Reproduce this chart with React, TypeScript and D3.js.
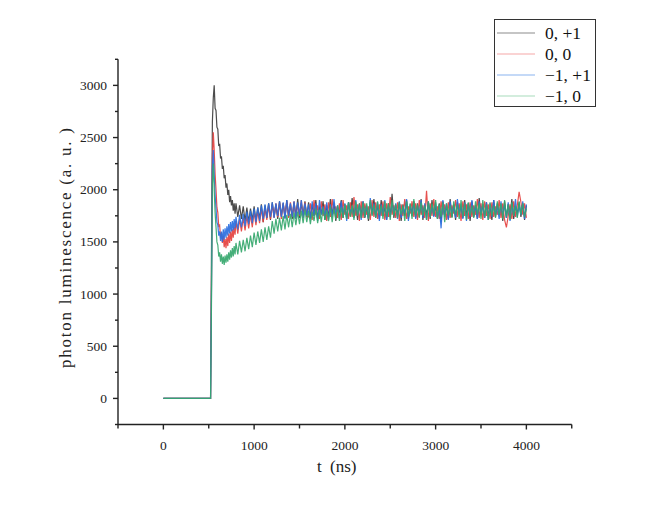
import React from "react";
import * as d3 from "d3";

// ---- Data ----
const seriesNames = ["0, +1", "0, 0", "\u22121, +1", "\u22121, 0"];
const seriesColors = ["#3d3d3d", "#e5413f", "#2a6fe0", "#35a76c"];
const legendColors = ["#8c8c8c", "#f5a8a8", "#8ab4f0", "#a8dcbc"];

const xMajorTicks = [0, 1000, 2000, 3000, 4000];
const yMajorTicks = [0, 500, 1000, 1500, 2000, 2500, 3000];

// flat baseline before the excitation pulse (t = 0 .. 520 ns)
const baseTimes = [0, 520];
const baseValues = [0, 0];

// early segment: t = 530 .. 790 ns every 10 ns
const blackEarly = [1400, 2650, 2880, 3000, 2780, 2760, 2600, 2580, 2420, 2440,
  2300, 2320, 2200, 2230, 2110, 2140, 2020, 2060, 1950, 2000,
  1880, 1940, 1850, 1900, 1800, 1870, 1770];
const redEarly = [1100, 2300, 2550, 2380, 2150, 2000, 1830, 1780, 1650, 1660,
  1540, 1590, 1490, 1560, 1450, 1530, 1440, 1550, 1460, 1580,
  1490, 1600, 1510, 1620, 1540, 1650, 1570];
const blueEarly = [1000, 2200, 2380, 2150, 1950, 1820, 1690, 1660, 1560, 1600,
  1510, 1600, 1500, 1620, 1520, 1630, 1540, 1650, 1560, 1670,
  1580, 1690, 1600, 1700, 1610, 1720, 1630];
const greenEarly = [900, 2050, 2250, 2000, 1780, 1640, 1500, 1470, 1360, 1400,
  1310, 1380, 1290, 1360, 1280, 1370, 1300, 1380, 1310, 1400,
  1330, 1420, 1350, 1440, 1360, 1460, 1380];

// middle segment: t = 800 .. 1580 ns every 20 ns
const blackMid = [1870, 1740, 1850, 1720, 1840, 1700, 1830, 1690, 1820, 1710,
  1840, 1700, 1830, 1720, 1860, 1690, 1850, 1730, 1870, 1710,
  1880, 1740, 1860, 1720, 1890, 1750, 1870, 1730, 1900, 1740,
  1860, 1720, 1880, 1750, 1910, 1730, 1870, 1760, 1890, 1740];
const redMid = [1700, 1580, 1720, 1600, 1730, 1610, 1750, 1630, 1760, 1640,
  1790, 1660, 1800, 1680, 1820, 1690, 1830, 1710, 1850, 1720,
  1860, 1730, 1870, 1740, 1880, 1720, 1870, 1750, 1890, 1730,
  1880, 1740, 1890, 1720, 1870, 1750, 1900, 1730, 1880, 1740];
const blueMid = [1740, 1620, 1760, 1640, 1770, 1650, 1790, 1670, 1800, 1680,
  1820, 1690, 1830, 1700, 1850, 1720, 1860, 1730, 1870, 1740,
  1880, 1730, 1870, 1750, 1890, 1740, 1880, 1720, 1900, 1750,
  1870, 1740, 1890, 1720, 1880, 1760, 1900, 1730, 1870, 1750];
const greenMid = [1490, 1380, 1510, 1400, 1520, 1410, 1540, 1430, 1560, 1450,
  1590, 1470, 1600, 1490, 1620, 1500, 1640, 1520, 1650, 1540,
  1700, 1580, 1720, 1600, 1730, 1610, 1750, 1620, 1760, 1640,
  1770, 1640, 1780, 1660, 1790, 1670, 1800, 1680, 1810, 1690];

// late segment: t = 1600 .. 4000 ns every 20 ns
const blackLate = [1880, 1730, 1860, 1750, 1900, 1720, 1840, 1770, 1890, 1710,
  1850, 1740, 1910, 1760, 1870, 1700, 1830, 1780, 1900, 1730,
  1860, 1720, 1880, 1750, 1920, 1740, 1850, 1710, 1870, 1760,
  1890, 1730, 1840, 1700, 1880, 1770, 1910, 1740, 1860, 1720,
  1900, 1750, 1830, 1710, 1870, 1740, 1960, 1730, 1850, 1760,
  1880, 1700, 1860, 1750, 1900, 1720, 1840, 1780, 1890, 1730,
  1870, 1740, 1910, 1710, 1850, 1760, 1880, 1720, 1900, 1750,
  1840, 1730, 1870, 1690, 1890, 1760, 1850, 1720, 1910, 1740,
  1860, 1710, 1880, 1770, 1840, 1730, 1900, 1750, 1870, 1700,
  1890, 1740, 1850, 1720, 1920, 1760, 1860, 1730, 1880, 1750,
  1830, 1710, 1900, 1740, 1870, 1760, 1850, 1700, 1890, 1730,
  1860, 1750, 1910, 1720, 1840, 1770, 1880, 1740, 1870, 1710,
  1850];
const redLate = [1740, 1870, 1710, 1900, 1760, 1850, 1720, 1890, 1750, 1860,
  1700, 1880, 1740, 1910, 1770, 1840, 1730, 1870, 1710, 1900,
  1760, 1850, 1720, 1880, 1740, 1930, 1750, 1860, 1700, 1890,
  1730, 1870, 1760, 1840, 1710, 1900, 1740, 1880, 1720, 1860,
  1750, 1890, 1710, 1870, 1740, 1930, 1760, 1850, 1730, 1880,
  1700, 1860, 1750, 1910, 1720, 1840, 1770, 1890, 1740, 1870,
  1710, 1900, 1760, 1850, 1730, 1990, 1700, 1870, 1750, 1910,
  1740, 1840, 1720, 1890, 1760, 1860, 1710, 1880, 1730, 1850,
  1770, 1900, 1740, 1870, 1700, 1890, 1750, 1860, 1720, 1880,
  1740, 1850, 1760, 1910, 1730, 1870, 1710, 1890, 1750, 1860,
  1720, 1880, 1740, 1840, 1760, 1900, 1730, 1870, 1710, 1640,
  1750, 1860, 1720, 1890, 1740, 1850, 1980, 1880, 1760, 1870,
  1730];
const blueLate = [1860, 1720, 1890, 1750, 1870, 1700, 1900, 1760, 1840, 1730,
  1880, 1710, 1860, 1740, 1910, 1760, 1850, 1720, 1890, 1750,
  1870, 1700, 1880, 1770, 1840, 1730, 1900, 1750, 1860, 1710,
  1890, 1740, 1850, 1720, 1920, 1760, 1870, 1730, 1880, 1700,
  1860, 1750, 1900, 1710, 1850, 1740, 1880, 1760, 1870, 1720,
  1890, 1730, 1840, 1770, 1910, 1700, 1860, 1750, 1880, 1720,
  1850, 1760, 1900, 1730, 1870, 1710, 1890, 1740, 1860, 1740,
  1880, 1720, 1850, 1630, 1900, 1740, 1870, 1710, 1890, 1750,
  1840, 1730, 1910, 1760, 1860, 1720, 1880, 1700, 1870, 1740,
  1900, 1750, 1850, 1720, 1890, 1760, 1860, 1730, 1880, 1710,
  1870, 1740, 1900, 1760, 1840, 1720, 1890, 1750, 1860, 1730,
  1880, 1700, 1870, 1750, 1910, 1740, 1850, 1760, 1890, 1720,
  1860];
const greenLate = [1800, 1670, 1790, 1700, 1820, 1680, 1810, 1690, 1830, 1710,
  1800, 1700, 1840, 1690, 1820, 1720, 1850, 1700, 1830, 1730,
  1860, 1720, 1880, 1740, 1850, 1710, 1890, 1750, 1860, 1730,
  1880, 1740, 1870, 1720, 1900, 1750, 1860, 1730, 1890, 1760,
  1850, 1720, 1890, 1740, 1870, 1710, 1900, 1750, 1860, 1730,
  1880, 1760, 1850, 1700, 1890, 1740, 1870, 1720, 1910, 1750,
  1860, 1730, 1880, 1750, 1850, 1710, 1890, 1740, 1870, 1760,
  1900, 1720, 1860, 1740, 1880, 1690, 1870, 1750, 1850, 1730,
  1890, 1760, 1860, 1720, 1900, 1740, 1870, 1710, 1880, 1750,
  1850, 1730, 1890, 1760, 1870, 1720, 1900, 1740, 1860, 1710,
  1880, 1750, 1850, 1730, 1890, 1760, 1870, 1720, 1900, 1740,
  1860, 1710, 1880, 1750, 1850, 1730, 1890, 1760, 1870, 1740,
  1820];

const segEarly = { start: 530, step: 10 };
const segMid = { start: 800, step: 20 };
const segLate = { start: 1600, step: 20 };

type Pt = [number, number];

function buildSeries(early: number[], mid: number[], late: number[]): Pt[] {
  const pts: Pt[] = baseTimes.map((t, i) => [t, baseValues[i]] as Pt);
  early.forEach((v, i) => pts.push([segEarly.start + i * segEarly.step, v]));
  mid.forEach((v, i) => pts.push([segMid.start + i * segMid.step, v]));
  late.forEach((v, i) => pts.push([segLate.start + i * segLate.step, v]));
  return pts;
}

const allSeries: Pt[][] = [
  buildSeries(blackEarly, blackMid, blackLate),
  buildSeries(redEarly, redMid, redLate),
  buildSeries(blueEarly, blueMid, blueLate),
  buildSeries(greenEarly, greenMid, greenLate),
];

export default function App() {
  const W = 664, H = 509;
  const x = d3.scaleLinear().domain([-500, 4500]).range([118, 571.75]);
  const y = d3.scaleLinear().domain([-250, 3250]).range([424.5, 59.3]);
  const line = d3.line<Pt>().x((d) => x(d[0])).y((d) => y(d[1]));

  const xMinor = d3.range(-500, 4501, 500).filter((v) => !xMajorTicks.includes(v));
  const yMinor = d3.range(-250, 3251, 250).filter((v) => !yMajorTicks.includes(v));
  const x0 = x.range()[0];
  const y0 = y.range()[0];
  const axisColor = "#222";
  const tickFont = "'Liberation Serif', 'Times New Roman', serif";

  return (
    <svg width={W} height={H} style={{ position: "absolute", left: 0, top: 0, background: "#fff" }}>
      <rect x={0} y={0} width={W} height={H} fill="#fff" />
      {/* data */}
      <g fill="none" strokeWidth={1.2} strokeLinejoin="miter">
        {allSeries.map((s, i) => (
          <path key={i} d={line(s) || ""} stroke={seriesColors[i]} strokeOpacity={0.92} />
        ))}
      </g>
      {/* axes */}
      <g stroke={axisColor} strokeWidth={1.4}>
        <line x1={x0} x2={x.range()[1]} y1={y0} y2={y0} />
        <line x1={x0} x2={x0} y1={y0} y2={y.range()[1]} />
        {xMajorTicks.map((v) => (
          <line key={"xm" + v} x1={x(v)} x2={x(v)} y1={y0} y2={y0 + 5} />
        ))}
        {xMinor.map((v) => (
          <line key={"xn" + v} x1={x(v)} x2={x(v)} y1={y0} y2={y0 + 4} />
        ))}
        {yMajorTicks.map((v) => (
          <line key={"ym" + v} x1={x0 - 5} x2={x0} y1={y(v)} y2={y(v)} />
        ))}
        {yMinor.map((v) => (
          <line key={"yn" + v} x1={x0 - 3} x2={x0} y1={y(v)} y2={y(v)} />
        ))}
      </g>
      <g fontFamily={tickFont} fontSize={13.5} fill="#222">
        {xMajorTicks.map((v) => (
          <text key={"xl" + v} x={x(v)} y={y0 + 25} textAnchor="middle">{v}</text>
        ))}
        {yMajorTicks.map((v) => (
          <text key={"yl" + v} x={x0 - 11} y={y(v) + 4.5} textAnchor="end">{v}</text>
        ))}
      </g>
      {/* axis titles */}
      <g fontFamily={tickFont} fontSize={17} fill="#222">
        <text x={317} y={472}>t</text>
        <text x={330} y={472}>(ns)</text>
        <text transform={`translate(71, ${248}) rotate(-90)`} textAnchor="middle"
          textLength={240} lengthAdjust="spacing">photon luminescence (a. u. )</text>
      </g>
      {/* legend */}
      <g>
        <rect x={494.5} y={19.5} width={101} height={87} fill="#fff" stroke="#333" strokeWidth={1} />
        {seriesNames.map((n, i) => (
          <g key={n}>
            <line x1={497} x2={535} y1={33 + i * 21} y2={33 + i * 21} stroke={legendColors[i]} strokeWidth={1.2} />
            <text x={545} y={39 + i * 21} fontFamily={tickFont} fontSize={17.5} fill="#111">{n}</text>
          </g>
        ))}
      </g>
    </svg>
  );
}
